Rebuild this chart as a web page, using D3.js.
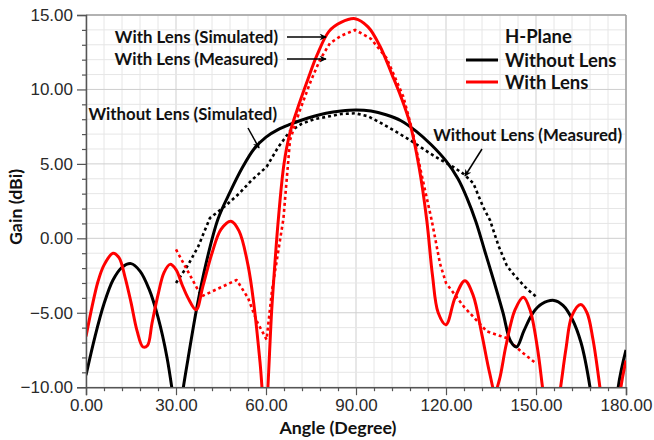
<!DOCTYPE html>
<html>
<head>
<meta charset="utf-8">
<script src="https://cdn.jsdelivr.net/npm/d3@7"></script>
<style>
  body { margin: 0; background: #fff; }
  .tick text { font-family: "Liberation Sans", Arial, sans-serif; font-size: 17px; fill: #2a2a2a; }
  .lbl { font-family: Lato, "Open Sans", sans-serif; font-weight: bold; font-size: 16.8px; fill: #111; }
</style>
</head>
<body>
<script>
// angles (degree) and gain (dBi)
var blackSimAngle = [0, 3, 6, 9, 12, 15, 18, 21, 24, 27, 29, 30.5, 32, 34, 37, 40, 44, 48, 52, 56, 60, 64, 68, 72, 76, 80, 85, 90, 95, 100, 105, 110, 115, 120, 124, 127, 130, 133, 136, 139, 141.5, 143.5, 146, 149, 152, 156, 159, 162, 165, 168, 171, 174, 177.4, 180];
var blackSimGain  = [-9.2, -6.6, -4.4, -2.8, -1.95, -1.7, -2.2, -3.4, -5.3, -8.0, -10.6, -13, -10.6, -8.1, -4.6, -1.7, 1.3, 3.1, 4.7, 6.0, 6.8, 7.3, 7.65, 7.95, 8.2, 8.4, 8.55, 8.62, 8.55, 8.3, 7.9, 7.2, 6.3, 5.2, 4.0, 2.7, 1.1, -0.9, -2.9, -5.0, -6.9, -7.3, -6.2, -5.0, -4.4, -4.17, -4.5, -5.4, -7.0, -10, -15, -18, -10, -7.5];

var blackMeasAngle = [30, 34, 37.4, 41.3, 46.9, 51, 55.2, 60.2, 64, 68, 72, 76, 81.3, 85, 89.7, 94, 98.7, 103, 108, 114.7, 118, 122.4, 126, 129.1, 132.4, 134.7, 137.5, 140.2, 142, 144.7, 147, 150.2];
var blackMeasGain  = [-3.0, -1.8, -0.55, 1.36, 2.25, 3.0, 3.9, 4.8, 6.1, 7.2, 7.7, 8.0, 8.2, 8.35, 8.4, 8.2, 7.7, 7.2, 6.6, 5.7, 5.3, 4.8, 4.3, 3.7, 2.1, 1.2, -0.5, -1.8, -2.3, -2.9, -3.4, -3.95];

var redSimAngle = [0, 2, 4, 6, 9, 11, 13, 15, 17, 19, 20.5, 22, 24, 26, 28, 30, 32, 34, 36.7, 39, 42, 45, 48.3, 51, 54, 56, 58, 59.7, 62, 64, 66, 68, 71, 74, 77, 81, 85, 89.7, 94, 98, 102, 105, 108, 111, 113.6, 115.5, 117.4, 120, 123, 126.3, 129, 132, 134.5, 136.3, 137.8, 140, 143, 145.8, 148, 150.5, 152.5, 155.2, 158.2, 160, 162, 164.9, 167, 169, 171.3, 175, 178.3, 180];
var redSimGain  = [-6.6, -4.6, -2.9, -1.8, -1.0, -1.3, -2.6, -4.3, -6.2, -7.3, -7.2, -5.7, -3.8, -2.3, -1.75, -2.1, -3.1, -4.0, -4.8, -3.2, -1.0, 0.6, 1.15, 0.5, -1.8, -4.5, -8.3, -12, -4.5, 1.0, 5.0, 7.1, 9.0, 10.7, 12.3, 13.9, 14.5, 14.75, 14.2, 12.9, 11.0, 9.5, 7.7, 4.8, 1.2, -2.5, -5.0, -5.8, -4.0, -2.85, -3.8, -6.5, -9.0, -10.3, -9.5, -7.2, -4.8, -3.95, -4.8, -7.4, -10.5, -14, -10, -7.4, -5.2, -4.45, -5.0, -6.8, -10, -16, -10, -8.2];

var redMeasAngle = [30, 38.5, 50.2, 54, 57, 60.2, 62, 65.8, 68, 71.3, 75, 78, 81.3, 85, 89.7, 95, 100.2, 105.8, 109, 111.3, 115.2, 116.3, 118, 120, 126, 133.6, 140.2, 145, 150];
var redMeasGain  = [-0.75, -3.9, -2.8, -4.0, -5.6, -6.8, -3.5, 1.3, 6.6, 8.6, 10.6, 12.0, 13.1, 13.6, 14.0, 13.4, 12.1, 9.5, 7.06, 4.8, 1.24, 0.1, -1.7, -3.0, -4.6, -6.25, -6.7, -7.6, -8.4];

var xMajor = [0, 30, 60, 90, 120, 150, 180];
var yMajor = [-10, -5, 0, 5, 10, 15];

var legendNames = ["Without Lens", "With Lens"];
var legendColors = ["#000000", "#ff0000"];

var notes = [
  {text: "With Lens (Simulated)", x: 278, y: 43, x1: 287, y1: 37, x2: 326, y2: 37},
  {text: "With Lens (Measured)", x: 278, y: 65, x1: 287, y1: 59, x2: 326, y2: 59},
  {text: "Without Lens (Simulated)", x: 277, y: 120, x1: 248, y1: 128, x2: 259, y2: 148},
  {text: "Without Lens (Measured)", x: 622, y: 141, x1: 482, y1: 149, x2: 465, y2: 176}
];

var w = 654, h = 440;
var margin = {left: 86, top: 15, right: 28, bottom: 53};

var svg = d3.select("body").append("svg")
  .attr("width", w)
  .attr("height", h);

var x = d3.scaleLinear().domain([0, 180]).range([margin.left, w - margin.right]);
var y = d3.scaleLinear().domain([-10, 15]).range([h - margin.bottom + 0.2, margin.top]);

// grid
var xMinor = d3.range(0, 181, 6);
var yMinor = d3.range(-10, 16, 1);

svg.append("g").selectAll("line.vx")
  .data(xMinor)
  .enter().append("line")
  .attr("x1", function(d) { return x(d); })
  .attr("x2", function(d) { return x(d); })
  .attr("y1", y(-10)).attr("y2", y(15))
  .attr("stroke", function(d) { return d % 30 == 0 ? "#cfcfcf" : "#e6e6e6"; })
  .attr("stroke-width", 1);

svg.append("g").selectAll("line.hy")
  .data(yMinor)
  .enter().append("line")
  .attr("y1", function(d) { return y(d); })
  .attr("y2", function(d) { return y(d); })
  .attr("x1", x(0)).attr("x2", x(180))
  .attr("stroke", function(d) { return d % 5 == 0 ? "#cfcfcf" : "#e6e6e6"; })
  .attr("stroke-width", 1);

// frame top and right
svg.append("line").attr("x1", x(0)).attr("x2", x(180)).attr("y1", y(15)).attr("y2", y(15))
  .attr("stroke", "#a0a0a0").attr("stroke-width", 1.5);
svg.append("line").attr("x1", x(180)).attr("x2", x(180)).attr("y1", y(15)).attr("y2", y(-10))
  .attr("stroke", "#a0a0a0").attr("stroke-width", 1.5);

// clip for curves
svg.append("defs").append("clipPath").attr("id", "plotclip")
  .append("rect")
  .attr("x", x(0)).attr("y", y(15))
  .attr("width", x(180) - x(0)).attr("height", y(-10) - y(15));

var line = d3.line()
  .x(function(d) { return x(d[0]); })
  .y(function(d) { return y(d[1]); });

var smooth = d3.line()
  .curve(d3.curveCatmullRom.alpha(0.5))
  .x(function(d) { return x(d[0]); })
  .y(function(d) { return y(d[1]); });

var series = [
  {a: blackMeasAngle, g: blackMeasGain, color: "#000", dash: "3,3", width: 2.6, gen: line},
  {a: redMeasAngle, g: redMeasGain, color: "#ff0000", dash: "3,3", width: 2.6, gen: line},
  {a: blackSimAngle, g: blackSimGain, color: "#000", dash: null, width: 3, gen: smooth},
  {a: redSimAngle, g: redSimGain, color: "#ff0000", dash: null, width: 3, gen: smooth}
];

var curves = svg.append("g").attr("clip-path", "url(#plotclip)");
series.forEach(function(s) {
  curves.append("path")
    .datum(d3.zip(s.a, s.g))
    .attr("d", s.gen)
    .attr("fill", "none")
    .attr("stroke", s.color)
    .attr("stroke-width", s.width)
    .attr("stroke-dasharray", s.dash)
    .attr("stroke-linejoin", "round");
});

// axes
var fmt = d3.format(".2f");

svg.append("g")
  .attr("transform", "translate(" + x(0) + ",0)")
  .call(d3.axisLeft(y).tickValues(yMajor).tickSize(9).tickPadding(4).tickFormat(fmt));
svg.append("g")
  .attr("transform", "translate(" + x(0) + ",0)")
  .call(d3.axisLeft(y).tickValues(yMinor.filter(function(d) { return d % 5 != 0; })).tickSize(4).tickFormat(""))
  .select(".domain").remove();

svg.append("g")
  .attr("transform", "translate(0," + y(-10) + ")")
  .call(d3.axisBottom(x).tickValues(xMajor).tickSize(8).tickPadding(4).tickFormat(fmt));
svg.append("g")
  .attr("transform", "translate(0," + y(-10) + ")")
  .call(d3.axisBottom(x).tickValues(xMinor.filter(function(d) { return d % 30 != 0; })).tickSize(4).tickFormat(""))
  .select(".domain").remove();

svg.selectAll(".domain").attr("stroke", "#555").attr("stroke-width", 1.5);
svg.selectAll(".tick line").attr("stroke", "#555").attr("stroke-width", 1.2);

// axis titles
svg.append("text")
  .attr("class", "lbl")
  .attr("x", 338).attr("y", 434)
  .attr("text-anchor", "middle")
  .style("font-size", "17.8px")
  .text("Angle (Degree)");

svg.append("text")
  .attr("class", "lbl")
  .attr("transform", "translate(22,207) rotate(-90)")
  .attr("text-anchor", "middle")
  .style("font-size", "17.8px")
  .text("Gain (dBi)");

// annotations with arrows
var defs = svg.select("defs");
defs.append("marker")
  .attr("id", "arrow")
  .attr("viewBox", "0 0 10 10")
  .attr("refX", 9).attr("refY", 5)
  .attr("markerWidth", 7).attr("markerHeight", 7)
  .attr("markerUnits", "userSpaceOnUse")
  .attr("orient", "auto")
  .append("path")
  .attr("d", "M0,0 L10,5 L0,10 L3,5 Z")
  .attr("fill", "#000");

notes.forEach(function(n) {
  svg.append("text")
    .attr("class", "lbl")
    .attr("x", n.x).attr("y", n.y)
    .attr("text-anchor", "end")
    .text(n.text);
  svg.append("line")
    .attr("x1", n.x1).attr("y1", n.y1)
    .attr("x2", n.x2).attr("y2", n.y2)
    .attr("stroke", "#000")
    .attr("stroke-width", 1.5)
    .attr("marker-end", "url(#arrow)");
});

// legend
var legend = svg.append("g").attr("transform", "translate(466,43)");
legend.append("text")
  .attr("class", "lbl")
  .attr("x", 39).attr("y", 0)
  .style("font-size", "18.5px")
  .text("H-Plane");
legendNames.forEach(function(name, i) {
  legend.append("line")
    .attr("x1", 0).attr("x2", 32)
    .attr("y1", 17 + i * 22).attr("y2", 17 + i * 22)
    .attr("stroke", legendColors[i])
    .attr("stroke-width", 3);
  legend.append("text")
    .attr("class", "lbl")
    .attr("x", 39).attr("y", 23.5 + i * 22)
    .style("font-size", "18.5px")
    .text(name);
});
</script>
</body>
</html>
